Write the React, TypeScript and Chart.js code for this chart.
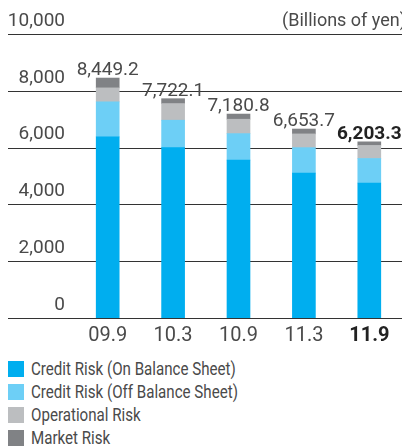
import React, { useEffect, useRef } from "react";
import { Chart, registerables } from "chart.js";

Chart.register(...registerables);

const categories = ["09.9", "10.3", "10.9", "11.3", "11.9"];
const creditOnBalance = [6379, 5998, 5562, 5103, 4755];
const creditOffBalance = [1231, 966, 931, 896, 862];
const operationalRisk = [493, 586, 506, 483, 459];
const marketRisk = [346, 172, 182, 172, 127];
const totals = [8449.2, 7722.1, 7180.8, 6653.7, 6203.3];
const totalLabels = ["8,449.2", "7,722.1", "7,180.8", "6,653.7", "6,203.3"];
const seriesNames = [
  "Credit Risk (On Balance Sheet)",
  "Credit Risk (Off Balance Sheet)",
  "Operational Risk",
  "Market Risk",
];
const seriesColors = ["#00aeef", "#6dcff6", "#bcbec0", "#808285"];
const unitLabel = "(Billions of yen)";

const FONT = "Roboto, 'Liberation Sans', sans-serif";

const overlayPlugin = {
  id: "overlay",
  beforeDatasetsDraw(chart: any) {
    const { ctx } = chart;
    const y = chart.scales.y;
    ctx.save();
    ctx.strokeStyle = "#333333";
    ctx.lineWidth = 1;
    y.ticks.forEach((t: any) => {
      const py = Math.round(y.getPixelForValue(t.value)) + 0.5;
      ctx.beginPath();
      ctx.moveTo(0, py);
      ctx.lineTo(chart.width, py);
      ctx.stroke();
    });
    ctx.restore();
  },
  afterDatasetsDraw(chart: any) {
    const { ctx } = chart;
    const x = chart.scales.x;
    const y = chart.scales.y;
    ctx.save();
    ctx.textAlign = "center";
    ctx.textBaseline = "alphabetic";
    totals.forEach((v, i) => {
      const last = i === totals.length - 1;
      ctx.font = `${last ? "bold " : ""}19px ${FONT}`;
      ctx.fillStyle = last ? "#222222" : "#4a4a4a";
      ctx.fillText(totalLabels[i], x.getPixelForValue(i), y.getPixelForValue(v) - 3);
    });
    ctx.font = `18px ${FONT}`;
    ctx.fillStyle = "#4a4a4a";
    ctx.textAlign = "right";
    ctx.textBaseline = "middle";
    ctx.fillText(unitLabel, chart.width - 4, 13);
    ctx.restore();
  },
};

export default function App() {
  const ref = useRef<HTMLCanvasElement>(null);
  useEffect(() => {
    if (!ref.current) return;
    const data = [creditOnBalance, creditOffBalance, operationalRisk, marketRisk];
    const chart = new Chart(ref.current, {
      type: "bar",
      data: {
        labels: categories,
        datasets: data.map((d, i) => ({
          label: seriesNames[i],
          data: d,
          backgroundColor: seriesColors[i],
          borderWidth: 0,
          barThickness: 23,
        })),
      },
      options: {
        animation: false,
        responsive: false,
        layout: { padding: { top: 26, right: 8, left: 0, bottom: 0 } },
        plugins: { legend: { display: false }, tooltip: { enabled: false } },
        scales: {
          x: {
            stacked: true,
            grid: { display: false, drawTicks: false },
            border: { display: false },
            ticks: {
              padding: 6,
              color: (c: any) => (c.index === 4 ? "#222222" : "#4a4a4a"),
              font: (c: any) => ({
                family: FONT,
                size: 20,
                weight: c.index === 4 ? "bold" : "normal",
              }),
            },
          },
          y: {
            stacked: true,
            min: 0,
            max: 10000,
            grid: { display: false, drawTicks: false },
            border: { display: false },
            afterFit: (s: any) => {
              s.width = 67;
            },
            ticks: {
              stepSize: 2000,
              padding: 10,
              labelOffset: -13,
              color: "#4a4a4a",
              font: { family: FONT, size: 19 },
              callback: (v: any) => Number(v).toLocaleString("en-US"),
            },
          },
        },
      },
      plugins: [overlayPlugin],
    });
    return () => chart.destroy();
  }, []);

  return (
    <div style={{ width: 402, fontFamily: FONT }}>
      <canvas ref={ref} width={402} height={346} style={{ display: "block" }} />
      <div style={{ marginTop: 3 }}>
        {seriesNames.map((n, i) => (
          <div key={n} style={{ height: 23, display: "flex", alignItems: "center" }}>
            <span
              style={{
                width: 16,
                height: 16,
                background: seriesColors[i],
                display: "inline-block",
                marginRight: 7,
                flex: "none",
              }}
            />
            <span
              style={{
                display: "inline-block",
                fontSize: 18,
                color: "#4a4a4a",
                whiteSpace: "nowrap",
                transform: "scaleX(0.84)",
                transformOrigin: "left center",
              }}
            >
              {n}
            </span>
          </div>
        ))}
      </div>
    </div>
  );
}
